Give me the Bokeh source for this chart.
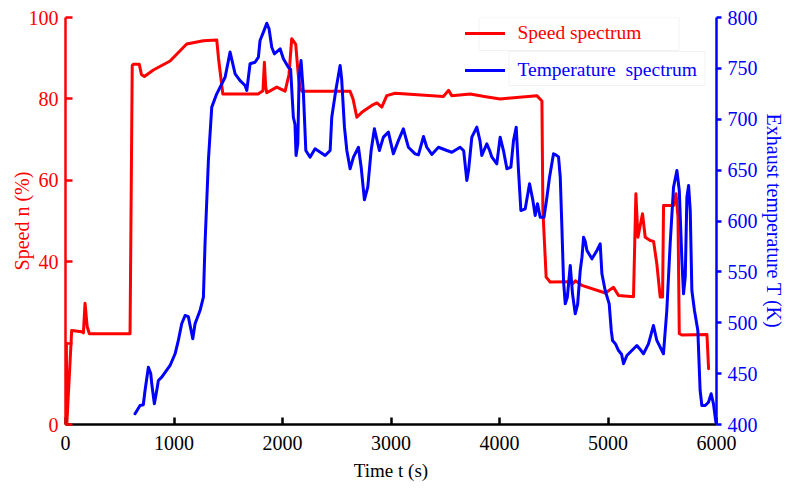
from bokeh.plotting import figure
from bokeh.models import Range1d, LinearAxis, Legend, LegendItem, BoxAnnotation, FixedTicker
from bokeh.embed import file_html
from bokeh.resources import INLINE

# ---- data ----
speed_t = [0, 5, 8, 12, 57, 150, 165, 180, 200, 220, 595, 615, 625, 680, 700, 727, 810, 964, 1117,
           1270, 1394, 1410, 1450, 1775, 1820, 1833, 1845, 1855, 1947, 2024, 2060, 2085, 2122, 2145,
           2162, 2178, 2623, 2650, 2685, 2731, 2823, 2870, 2915, 2961, 3038, 3483, 3530, 3560, 3730,
           3860, 4006, 4344, 4391, 4400, 4430, 4467, 4636, 4680, 4700, 4759, 4975, 5051, 5097, 5235,
           5257, 5276, 5318, 5343, 5389, 5420, 5450, 5481, 5503, 5512, 5604, 5627, 5645, 5657, 5680,
           5912, 5927]
speed_v = [15, 20, 20, 0, 23.1, 22.8, 22.5, 29.8, 24, 22.3, 22.3, 88.2, 88.5, 88.5, 86, 85.5, 87.1,
           89.3, 93.5, 94.3, 94.5, 90, 81.2, 81.2, 82, 89, 83, 81.5, 82.9, 81.9, 86, 94.8, 93.4, 86,
           82.5, 81.9, 81.9, 80, 75.5, 76.7, 78.4, 79, 78.0, 80.8, 81.4, 80.6, 82.1, 80.8, 81.2, 80.6,
           80.0, 80.8, 79.5, 52.6, 36.2, 35.0, 35.1, 34.7, 35.3, 34.2, 32.3, 33.7, 31.7, 31.4, 56.7,
           46.0, 51.8, 46.0, 45.2, 45.0, 39.5, 31.3, 31.3, 53.8, 53.8, 56.7, 50.9, 22.3, 22.0, 22.1,
           13.7]

temp_t = [641, 687, 717, 733, 764, 786, 795, 819, 841, 856, 887, 964, 1010, 1040, 1071, 1102, 1132,
          1173, 1194, 1240, 1271, 1286, 1317, 1348, 1394, 1471, 1517, 1563, 1609, 1655, 1671, 1701,
          1747, 1778, 1793, 1824, 1855, 1876, 1901, 1925, 1978, 2008, 2054, 2075, 2100, 2115, 2125,
          2141, 2153, 2171, 2193, 2215, 2254, 2300, 2393, 2439, 2454, 2491, 2531, 2545, 2571, 2593,
          2623, 2654, 2700, 2725, 2755, 2786, 2817, 2847, 2893, 2930, 2976, 3000, 3022, 3068, 3114,
          3160, 3222, 3253, 3299, 3330, 3376, 3437, 3515, 3561, 3637, 3670, 3699, 3715, 3745, 3791,
          3820, 3837, 3883, 3910, 3929, 3975, 4006, 4037, 4068, 4105, 4129, 4154, 4175, 4197, 4237,
          4277, 4308, 4329, 4350, 4375, 4410, 4437, 4461, 4498, 4520, 4544, 4560, 4575, 4590, 4606,
          4625, 4652, 4673, 4698, 4720, 4744, 4760, 4775, 4790, 4806, 4852, 4898, 4928, 4944, 4974,
          5011, 5030, 5042, 5070, 5097, 5125, 5143, 5174, 5220, 5266, 5295, 5327, 5373, 5419, 5450,
          5511, 5542, 5573, 5604, 5635, 5657, 5681, 5696, 5712, 5727, 5743, 5758, 5773, 5797, 5828,
          5849, 5865, 5896, 5926, 5951, 5972, 5994]
temp_v = [410.5, 418.7, 419.4, 433.4, 456.3, 449.8, 440, 420.3, 433.4, 443.2, 446.5, 458, 469.5,
          482.6, 499, 507.1, 506, 484.2, 499, 512, 525.1, 577.6, 659.5, 711.9, 725, 741.3, 766,
          744.7, 738, 733.2, 728.3, 754.5, 756, 761, 777.4, 785.6, 794.4, 788.9, 770.8, 764.3, 769.2,
          759.4, 751.1, 749, 702, 695, 664.4, 675.9, 741.3, 757.7, 725, 669.3, 662.7, 671, 664.4,
          669.3, 702, 728.3, 752.8, 740, 692.2, 669.3, 651.3, 662.7, 672.5, 652.9, 620.8, 633.2,
          669.3, 690.6, 669.3, 682.4, 687.3, 676, 666, 679, 690.6, 672.5, 666, 665, 683, 672.5, 665.4,
          672.5, 669.3, 667.6, 672.5, 669, 639.8, 650, 682.4, 692.2, 679, 664.4, 675.9, 669, 663,
          656.2, 682.4, 669, 651.3, 653, 679, 692.2, 649.6, 610.3, 612, 636.6, 620, 605.4, 616.9,
          603.7, 603.7, 623.4, 643, 666, 665, 663, 643, 594, 541.5, 518.6, 525, 556.3, 528.4, 508.8,
          518, 551.3, 564.4, 584.1, 580, 571, 562.8, 571, 577.6, 548.1, 531.7, 518.6, 492.4, 482.6,
          479, 472.7, 469, 459.7, 467.8, 472.7, 477.6, 474, 469.5, 479.3, 497.3, 482.6, 469.5, 512,
          577.6, 633.2, 649.6, 630, 561.2, 528.4, 545, 623.4, 634.9, 610, 531.7, 512, 492.4, 433.4,
          418.7, 418.7, 421.9, 430.2, 420.3, 402.3]

x_ticks = [0, 1000, 2000, 3000, 4000, 5000, 6000]
speed_ticks = [0, 20, 40, 60, 80, 100]
temp_ticks = [400, 450, 500, 550, 600, 650, 700, 750, 800]

RED = "#ff0000"
BLUE = "#0000ff"
FONT = "Liberation Serif"

p = figure(width=788, height=488, output_backend="svg", toolbar_location=None,
           x_range=Range1d(0, 6000), y_range=Range1d(0, 100),
           min_border_left=65, min_border_right=72, min_border_top=17, min_border_bottom=64)
p.extra_y_ranges = {"temp": Range1d(400, 800)}
p.outline_line_color = None
p.grid.visible = False
p.background_fill_color = "white"

r_speed = p.line(speed_t, speed_v, line_color=RED, line_width=3, line_join="round", line_cap="round")
r_temp = p.line(temp_t, temp_v, line_color=BLUE, line_width=3, line_join="round", line_cap="round",
                y_range_name="temp")

# bottom axis
xa = p.xaxis[0]
xa.ticker = FixedTicker(ticks=x_ticks)
xa.axis_line_width = 2.5
xa.axis_line_color = "black"
xa.major_tick_line_width = 2.5
xa.major_tick_in = 7
xa.major_tick_out = 0
xa.minor_tick_line_color = None
xa.major_label_text_font = FONT
xa.major_label_text_font_size = "20px"
xa.major_label_text_color = "black"
xa.major_label_standoff = 11
xa.axis_label = "Time t (s)"
xa.axis_label_text_font = FONT
xa.axis_label_text_font_size = "19px"
xa.axis_label_text_font_style = "normal"
xa.axis_label_text_color = "black"
xa.axis_label_standoff = 7

# left axis
ya = p.yaxis[0]
ya.ticker = FixedTicker(ticks=speed_ticks)
ya.major_label_overrides = {20: ""}
ya.axis_line_width = 2.5
ya.axis_line_color = RED
ya.major_tick_line_color = RED
ya.major_tick_line_width = 2.5
ya.major_tick_in = 7
ya.major_tick_out = 0
ya.minor_tick_line_color = None
ya.major_label_text_font = FONT
ya.major_label_text_font_size = "20px"
ya.major_label_text_color = RED
ya.major_label_standoff = 7
ya.axis_label = "Speed n (%)"
ya.axis_label_text_font = FONT
ya.axis_label_text_font_size = "20px"
ya.axis_label_text_font_style = "normal"
ya.axis_label_text_color = RED
ya.axis_label_standoff = -7

# right axis
ra = LinearAxis(y_range_name="temp", ticker=FixedTicker(ticks=temp_ticks))
ra.axis_line_width = 2.5
ra.axis_line_color = BLUE
ra.major_tick_line_color = BLUE
ra.major_tick_line_width = 2.5
ra.major_tick_in = 0
ra.major_tick_out = 5
ra.minor_tick_line_color = None
ra.major_label_text_font = FONT
ra.major_label_text_font_size = "20px"
ra.major_label_text_color = BLUE
ra.major_label_standoff = 6
ra.axis_label = "Exhaust temperature T (K)"
ra.axis_label_text_font = FONT
ra.axis_label_text_font_size = "20px"
ra.axis_label_text_font_style = "normal"
ra.axis_label_text_color = BLUE
ra.axis_label_standoff = 2
p.add_layout(ra, "right")

# legend boxes
p.add_layout(BoxAnnotation(left=413.5, right=613.5, top=407, bottom=374,
                           left_units="screen", right_units="screen", top_units="screen",
                           bottom_units="screen", fill_color="white", fill_alpha=1.0,
                           line_color="#d4d4d4", line_width=1))
p.add_layout(BoxAnnotation(left=443.5, right=639.5, top=373, bottom=339,
                           left_units="screen", right_units="screen", top_units="screen",
                           bottom_units="screen", fill_color="white", fill_alpha=1.0,
                           line_color="#d4d4d4", line_width=1))


def make_legend(label, rend, color, loc):
    lg = Legend(items=[LegendItem(label=label, renderers=[rend])], location=loc)
    lg.border_line_alpha = 0
    lg.background_fill_alpha = 0
    lg.padding = 0
    lg.margin = 0
    lg.spacing = 0
    lg.glyph_width = 40
    lg.glyph_height = 20
    lg.label_height = 20
    lg.label_standoff = 13
    lg.label_text_font = FONT
    lg.label_text_font_size = "19.5px"
    lg.label_text_baseline = "middle"
    lg.label_text_color = color
    p.add_layout(lg, "center")


make_legend("Speed spectrum", r_speed, RED, (399.5, 380))
make_legend("Temperature  spectrum", r_temp, BLUE, (399.5, 343))

html = file_html(p, INLINE)
html = html.replace("Temperature  spectrum", "Temperature\u00a0 spectrum")
open("out.html", "w").write(html)
